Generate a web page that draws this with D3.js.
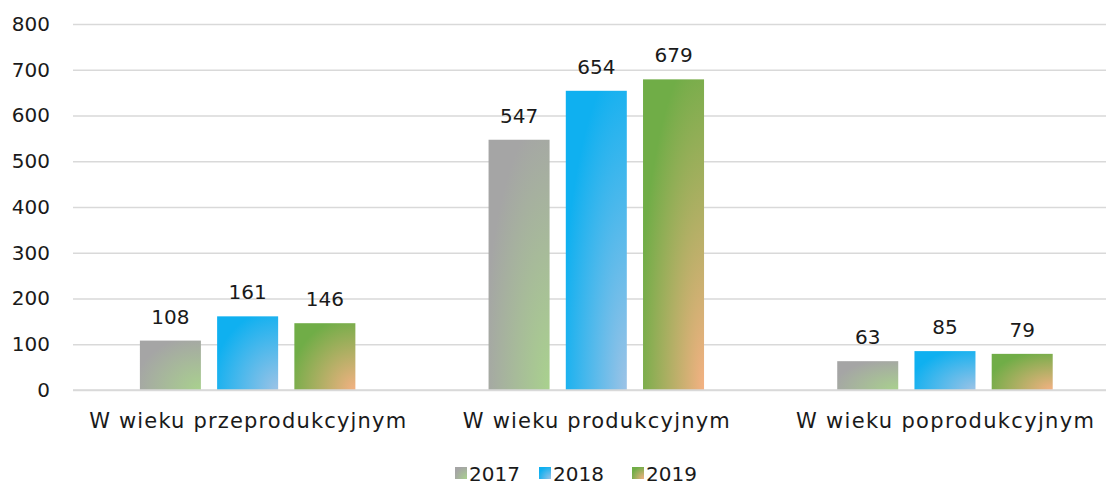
<!DOCTYPE html>
<html><head><meta charset="utf-8">
<script src="https://cdn.jsdelivr.net/npm/d3@7"></script>
<style>html,body{margin:0;padding:0;background:#fff;}svg{display:block;}text{font-family:"DejaVu Sans",sans-serif;fill:#1a1a1a;}</style>
</head><body><svg id="c" width="1106" height="486"></svg>
<script>
const categories = ["W wieku przeprodukcyjnym", "W wieku produkcyjnym", "W wieku poprodukcyjnym"];
const seriesNames = ["2017", "2018", "2019"];
const v2017 = [108, 547, 63];
const v2018 = [161, 654, 85];
const v2019 = [146, 679, 79];
const yTicks = [0, 100, 200, 300, 400, 500, 600, 700, 800];
const outerColors = ["#a5a5a5", "#0fb0f0", "#70ad47"];
const innerColors = ["#a9d18e", "#9dc3e6", "#f4b183"];
const labelWidths = [317, 267, 298];

const values = [v2017, v2018, v2019];
const W = 1106, H = 486;
const FONT = '"DejaVu Sans",sans-serif';
const svg = d3.select("#c");
const defs = svg.append("defs");
seriesNames.forEach((s, i) => {
  const g = defs.append("radialGradient").attr("id", "g" + i)
    .attr("cx", 1).attr("cy", 1).attr("r", 1.1).attr("fx", 1).attr("fy", 1);
  g.append("stop").attr("offset", "0%").attr("stop-color", innerColors[i]);
  g.append("stop").attr("offset", "100%").attr("stop-color", outerColors[i]);
});

const y = d3.scaleLinear().domain([0, 800]).range([390, 24]);
const x0 = d3.scaleBand().domain(categories).range([73.3, 1119.3]).paddingInner(0).paddingOuter(0);
const groupW = x0.bandwidth() * 0.618;
const x1 = d3.scaleBand().domain(seriesNames)
  .range([x0.bandwidth() / 2 - groupW / 2, x0.bandwidth() / 2 + groupW / 2]).paddingInner(0.21).paddingOuter(0);

// gridlines
const yAxis = d3.axisLeft(y).tickValues(yTicks).tickSize(-(W - 73)).tickPadding(23);
const ga = svg.append("g").attr("transform", "translate(73,0)").call(yAxis);
ga.select(".domain").remove();
ga.selectAll(".tick line").attr("stroke", "#d9d9d9").attr("stroke-width", 1.5);
ga.selectAll(".tick text").attr("font-size", 20).attr("fill", "#262626").style("font-family", FONT);

// bars
const groups = svg.append("g").selectAll("g").data(categories).join("g")
  .attr("transform", d => `translate(${x0(d)},0)`);
seriesNames.forEach((s, si) => {
  groups.append("rect")
    .attr("x", x1(s)).attr("width", x1.bandwidth())
    .attr("y", (d, ci) => y(values[si][ci]))
    .attr("height", (d, ci) => y(0) - y(values[si][ci]))
    .attr("fill", `url(#g${si})`);
  groups.append("text")
    .attr("x", x1(s) + x1.bandwidth() / 2)
    .attr("y", (d, ci) => y(values[si][ci]) - 17)
    .attr("text-anchor", "middle").attr("font-size", 20).attr("fill", "#262626")
    .text((d, ci) => values[si][ci]);
});

// baseline
svg.append("line").attr("x1", 73).attr("x2", W).attr("y1", y(0)).attr("y2", y(0))
  .attr("stroke", "#d9d9d9").attr("stroke-width", 1.5);

// category labels
const xAxis = d3.axisBottom(x0).tickSize(0).tickPadding(0);
const gx = svg.append("g").attr("transform", `translate(0,${y(0)})`).call(xAxis);
gx.select(".domain").remove();
gx.selectAll(".tick text").attr("y", 38).attr("dy", 0).attr("font-size", 21).attr("fill", "#262626")
  .style("font-family", FONT)
  .attr("textLength", (d, i) => labelWidths[i]).attr("lengthAdjust", "spacing");

// legend
const legendX = [455, 539, 632];
const lg = svg.append("g").selectAll("g").data(seriesNames).join("g")
  .attr("transform", (d, i) => `translate(${legendX[i]},467)`);
lg.append("rect").attr("width", 12).attr("height", 12).attr("fill", (d, i) => `url(#g${i})`);
lg.append("text").attr("x", 14).attr("y", 14).attr("font-size", 20).attr("fill", "#262626").text(d => d);
</script></body></html>
